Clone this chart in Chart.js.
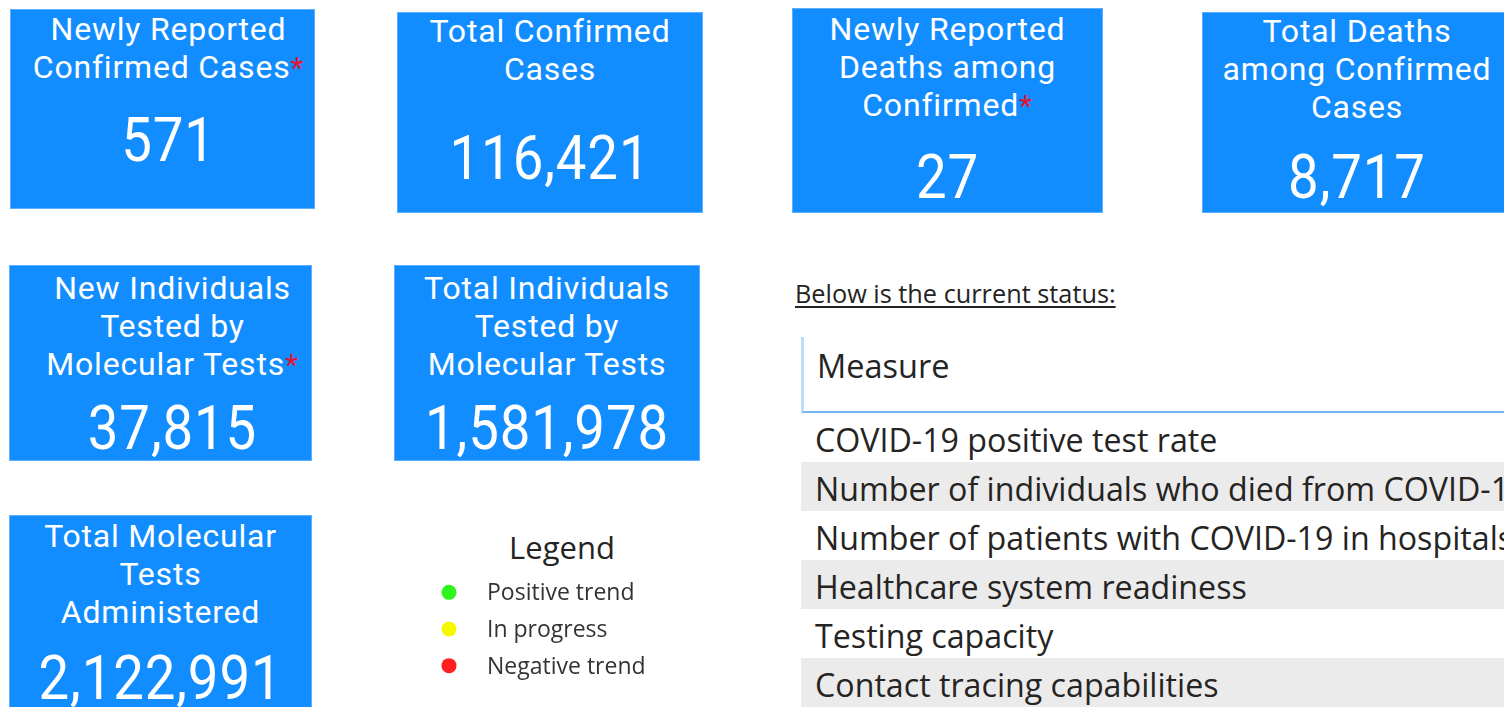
<!DOCTYPE html>
<html>
<head>
<meta charset="utf-8">
<script src="https://cdn.jsdelivr.net/npm/chart.js@4"></script>
<style>
  html, body { margin: 0; padding: 0; background: #fff; }
  body { width: 1504px; height: 707px; position: relative; overflow: hidden; }
  .card { position: absolute; background: #118dff; color: #fff; text-align: center; font-family: Roboto, sans-serif; box-sizing: border-box; box-shadow: inset 0 0 0 1px #5aafff; }
  .card .ttl { font-size: 32px; line-height: 38px; letter-spacing: 0.8px; }
  .card .ast { color: #e8112d; font-size: 30px; }
  .card .val { position: absolute; left: 0; right: 0; font-size: 62px; line-height: 62px; transform: scaleX(0.88); letter-spacing: 1px; }
  #c1 { left: 10px; top: 9px; width: 305px; height: 200px; padding-left: 12px; }
  #c2 { left: 397px; top: 12px; width: 306px; height: 201px; }
  #c3 { left: 792px; top: 8px; width: 311px; height: 205px; }
  #c4 { left: 1202px; top: 12px; width: 310px; height: 201px; }
  #c5 { left: 9px; top: 265px; width: 303px; height: 196px; padding-left: 24px; }
  #c6 { left: 394px; top: 265px; width: 306px; height: 196px; }
  #c7 { left: 9px; top: 515px; width: 303px; height: 200px; }
  #c1 .ttl { padding-top: 1px; } #c1 .val { top: 100px; left: 12px; }
  #c2 .ttl { padding-top: 0; }   #c2 .val { top: 115px; }
  #c3 .ttl { padding-top: 2px; } #c3 .val { top: 138px; }
  #c4 .ttl { padding-top: 0; }   #c4 .val { top: 134px; }
  #c5 .ttl { padding-top: 4px; } #c5 .val { top: 132px; left: 24px; }
  #c6 .ttl { padding-top: 4px; } #c6 .val { top: 132px; }
  #c7 .ttl { padding-top: 2px; } #c7 .val { top: 132px; }
  .status { position: absolute; left: 795px; top: 278px; font-family: "Open Sans", sans-serif; font-size: 25.3px; line-height: 30px; color: #252423; text-decoration: underline; text-underline-offset: 3px; }
  .legend-title { position: absolute; left: 462px; top: 529px; width: 200px; text-align: center; font-family: "Open Sans", sans-serif; font-size: 31px; line-height: 36px; color: #252423; }
  #legendWrap { position: absolute; left: 423px; top: 574px; width: 260px; height: 110px; }
  .table { position: absolute; left: 801px; top: 337px; width: 720px; font-family: "Open Sans", sans-serif; color: #252423; }
  .table .head { height: 76px; box-sizing: border-box; border-left: 3px solid #bcdcf7; border-bottom: 2px solid #74b6f3; padding: 10px 0 0 13px; font-size: 32.5px; line-height: 38px; }
  .table .row { height: 49px; padding-left: 14px; font-size: 32.2px; line-height: 53px; white-space: nowrap; overflow: visible; }
  .table .row:nth-child(odd) { background: #ebebeb; }
</style>
</head>
<body>
<div id="cards"></div>
<div class="status">Below is the current status:</div>
<div class="legend-title">Legend</div>
<div id="legendWrap"><canvas id="legendChart" width="260" height="110"></canvas></div>
<div class="table" id="measureTable"><div class="head">Measure</div></div>
<script>
const cardTitles = [
    ['Newly Reported', 'Confirmed Cases'],
    ['Total Confirmed', 'Cases'],
    ['Newly Reported', 'Deaths among', 'Confirmed'],
    ['Total Deaths', 'among Confirmed', 'Cases'],
    ['New Individuals', 'Tested by', 'Molecular Tests'],
    ['Total Individuals', 'Tested by', 'Molecular Tests'],
    ['Total Molecular', 'Tests', 'Administered']
];
const cardValues = [571, 116421, 27, 8717, 37815, 1581978, 2122991];
const cardStarred = [true, false, true, false, true, false, false];

const legendLabels = ['Positive trend', 'In progress', 'Negative trend'];
const legendColors = ['#2ff51f', '#f7f700', '#ff1f1f'];
const legendRank = [1, 2, 3];

const measures = [
    'COVID-19 positive test rate',
    'Number of individuals who died from COVID-19',
    'Number of patients with COVID-19 in hospitals',
    'Healthcare system readiness',
    'Testing capacity',
    'Contact tracing capabilities'
];

document.addEventListener('DOMContentLoaded', function() {
    buildCards();
    buildTable();
    buildLegend();
});

function buildCards() {
    const wrap = document.getElementById('cards');
    cardTitles.forEach((lines, i) => {
        const star = cardStarred[i] ? '<span class="ast">*</span>' : '';
        const ttl = lines.map((l, j) => j === lines.length - 1 ? l + star : l).join('<br>');
        wrap.innerHTML += `
            <div class="card" id="c${i + 1}">
              <div class="ttl">${ttl}</div>
              <div class="val">${cardValues[i].toLocaleString('en-US')}</div>
            </div>`;
    });
}

function buildTable() {
    const table = document.getElementById('measureTable');
    measures.forEach(m => {
        const row = document.createElement('div');
        row.className = 'row';
        row.textContent = m;
        table.appendChild(row);
    });
}

// draws the legend text next to each dot
const dotLabels = {
    id: 'dotLabels',
    afterDatasetsDraw(chart) {
        const ctx = chart.ctx;
        const meta = chart.getDatasetMeta(0);
        ctx.save();
        ctx.font = '23px "Open Sans", sans-serif';
        ctx.fillStyle = '#333333';
        ctx.textBaseline = 'alphabetic';
        meta.data.forEach((pt, i) => {
            ctx.fillText(legendLabels[i], pt.x + 38, pt.y + 8);
        });
        ctx.restore();
    }
};

function buildLegend() {
    const ctx = document.getElementById('legendChart');
    new Chart(ctx, {
        type: 'scatter',
        data: {
            datasets: [{
                data: legendRank.map(r => ({ x: 1, y: r })),
                backgroundColor: legendColors,
                borderColor: legendColors,
                pointRadius: 7.5,
                borderWidth: 0
            }]
        },
        options: {
            responsive: false,
            animation: false,
            layout: { padding: 0, autoPadding: false },
            plugins: { legend: { display: false }, tooltip: { enabled: false } },
            scales: {
                x: { display: false, min: 0, max: 10 },
                y: { display: false, min: 0.5, max: 3.5, reverse: true }
            }
        },
        plugins: [dotLabels]
    });
}
</script>
</body>
</html>
